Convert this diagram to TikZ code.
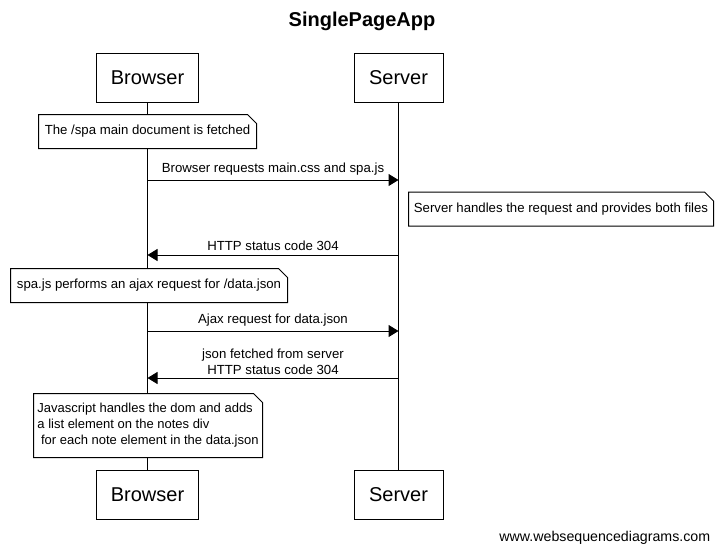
\documentclass[tikz,border=0pt]{standalone}
\usepackage{fontspec}
\setmainfont{Liberation Sans}
\usetikzlibrary{arrows.meta,positioning}

% note with a cut corner, drawn over a white node
\newcommand{\foldnote}[1]{%
\draw (#1.south west) -- (#1.north west) -- ([xshift=-9pt]#1.north east)
  -- ([yshift=-9pt]#1.north east) -- (#1.south east) -- cycle;
}

\tikzset{
  actor/.style={draw, fill=white, line width=1pt, minimum height=49pt,
    inner sep=0pt, font=\fontsize{20}{24}\selectfont},
  note/.style={fill=white, inner sep=0pt, minimum height=33pt,
    font=\fontsize{13.2}{16}\selectfont},
  msg/.style={line width=1pt, -{Triangle[length=10pt,width=12pt]}},
  lbl/.style={font=\fontsize{13.2}{16}\selectfont, inner sep=0pt, align=center}
}

\begin{document}
\begin{tikzpicture}[x=1pt,y=-1pt,line width=1pt]
\useasboundingbox (0,0) rectangle (722,554);

\node[font=\bfseries\fontsize{20}{24}\selectfont] (ttl) at (362,21) {SinglePageApp};

% participants
\node[actor, minimum width=102pt] (bt) at (147.5,77.5) {Browser};
\node[actor, minimum width=89pt] (st) at (398.5,77.5) {Server};
\node[actor, minimum width=102pt] (bb) at (147.5,494.5) {Browser};
\node[actor, minimum width=89pt] (sb) at (398.5,494.5) {Server};

% lifelines
\draw (bt) -- (bb);
\draw (st) -- (sb);

% notes
\node[note, minimum width=217pt] (n1) at (147.5,131.5) {The /spa main document is fetched};
\foldnote{n1}
\node[note, minimum width=304pt] (n2) at (561,209) {Server handles the request and provides both files};
\foldnote{n2}
\node[note, minimum width=276pt] (n3) at (149,285.5) {spa.js performs an ajax request for /data.json};
\foldnote{n3}
\node[note, minimum width=228pt, minimum height=63pt, align=left,
  font=\fontsize{13}{16}\selectfont] (n4) at (148,425.5)
  {Javascript handles the dom and adds\\a list element on the notes div\\ \ for each note element in the data.json};
\foldnote{n4}

% messages
\draw[msg] (bt.south |- 0,180) -- (st.south |- 0,180)
  node[lbl, midway, above=4pt] (m1) {Browser requests main.css and spa.js};
\draw[msg] (st.south |- 0,255) -- (bt.south |- 0,255)
  node[lbl, midway, above=4pt] (m2) {HTTP status code 304};
\draw[msg] (bt.south |- 0,331) -- (st.south |- 0,331)
  node[lbl, midway, above=4pt] (m3) {Ajax request for data.json};
\draw[msg] (st.south |- 0,378) -- (bt.south |- 0,378)
  node[lbl, midway, above=3pt] (m4) {json fetched from server\\HTTP status code 304};

\node[font=\fontsize{14.2}{17}\selectfont, anchor=east] (wsd) at (714,538) {www.websequencediagrams.com};
\end{tikzpicture}
\end{document}
